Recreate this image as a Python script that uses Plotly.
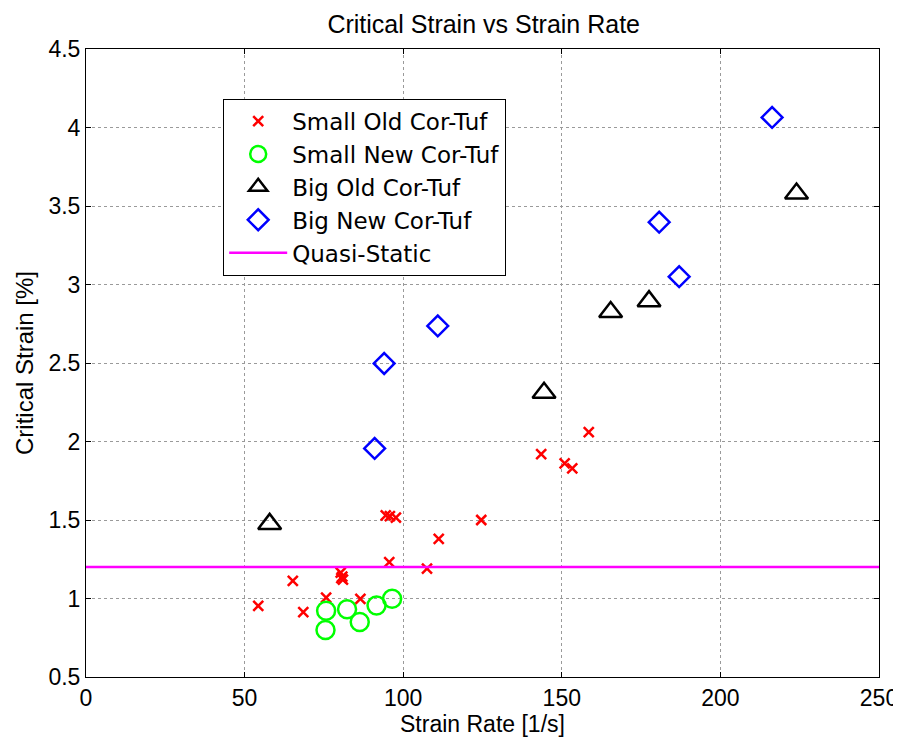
import plotly.graph_objects as go

# Small Old Cor-Tuf
so_x = [54.3, 65.2, 68.5, 75.7, 80.3, 80.8, 81.0, 80.5, 86.5, 94.5, 95.8, 97.7, 95.6, 107.5, 111.2, 124.6, 143.5, 150.9, 153.3, 158.5]
so_y = [0.953, 1.113, 0.913, 1.006, 1.165, 1.14, 1.12, 1.13, 0.998, 1.53, 1.525, 1.515, 1.231, 1.19, 1.38, 1.50, 1.92, 1.861, 1.829, 2.06]
# Small New Cor-Tuf
sn_x = [75.7, 75.5, 82.3, 86.3, 91.6, 96.5]
sn_y = [0.922, 0.80, 0.932, 0.85, 0.955, 0.998]
# Big Old Cor-Tuf
bo_x = [57.9, 144.4, 165.4, 177.5, 224.0]
bo_y = [1.475, 2.31, 2.825, 2.894, 3.58]
# Big New Cor-Tuf
bn_x = [91.0, 94.0, 110.9, 180.7, 187.0, 216.3]
bn_y = [1.956, 2.497, 2.736, 3.397, 3.05, 4.064]
# Quasi-Static
qs_x = [0, 250]
qs_y = [1.2, 1.2]

fig = go.Figure()
fig.add_trace(go.Scatter(x=so_x, y=so_y, mode="markers", name="Small Old Cor-Tuf",
                         marker=dict(symbol="x-thin", size=10, line=dict(color="#ff0000", width=2.5), color="#ff0000")))
fig.add_trace(go.Scatter(x=sn_x, y=sn_y, mode="markers", name="Small New Cor-Tuf",
                         marker=dict(symbol="circle-open", size=18, color="#00ff00", line=dict(width=2.5))))
fig.add_trace(go.Scatter(x=bo_x, y=bo_y, mode="markers", name="Big Old Cor-Tuf",
                         marker=dict(symbol="triangle-up-open", size=20, color="#000000", line=dict(width=2.5))))
fig.add_trace(go.Scatter(x=bn_x, y=bn_y, mode="markers", name="Big New Cor-Tuf",
                         marker=dict(symbol="diamond-open", size=16, color="#0000ff", line=dict(width=2.5))))
fig.add_trace(go.Scatter(x=qs_x, y=qs_y, mode="lines", name="Quasi-Static",
                         line=dict(color="#ff00ff", width=2.5)))

axis_common = dict(showline=True, linecolor="black", linewidth=1, mirror="ticks",
                   ticks="inside", ticklen=5, tickcolor="black",
                   showgrid=True, gridcolor="#9a9a9a", griddash="dot", gridwidth=1,
                   zeroline=False, automargin=False)

fig.update_layout(
    width=901, height=738,
    margin=dict(l=78, r=30, t=41, b=69),
    paper_bgcolor="white", plot_bgcolor="white",
    title=dict(text="Critical Strain vs Strain Rate", x=0.528, xanchor="center", y=0.978, yanchor="middle",
               font=dict(family="Liberation Sans Narrow, Liberation Sans", size=25, color="black")),
    font=dict(family="Liberation Sans, Arial", size=24, color="black"),
    xaxis=dict(range=[0, 250], tickvals=[0, 50, 100, 150, 200, 250],
               title=dict(text="Strain Rate [1/s]", standoff=0,
                          font=dict(family="Liberation Sans Narrow, Liberation Sans", size=23)),
               tickfont=dict(family="Liberation Sans Narrow, Liberation Sans", size=23),
               **axis_common),
    yaxis=dict(range=[0.5, 4.5], tickvals=[0.5, 1, 1.5, 2, 2.5, 3, 3.5, 4, 4.5],
               ticktext=["0.5", "1", "1.5", "2", "2.5", "3", "3.5", "4", "4.5"],
               title=dict(text="Critical Strain [%]", standoff=8, font=dict(size=24)),
               tickfont=dict(size=23),
               **axis_common),
    legend=dict(x=0.173, y=0.921, xanchor="left", yanchor="top",
                bgcolor="white", bordercolor="black", borderwidth=1,
                font=dict(family="DejaVu Sans", size=23), itemwidth=58, tracegroupgap=0),
    showlegend=True,
)

fig.write_html("out.html")
